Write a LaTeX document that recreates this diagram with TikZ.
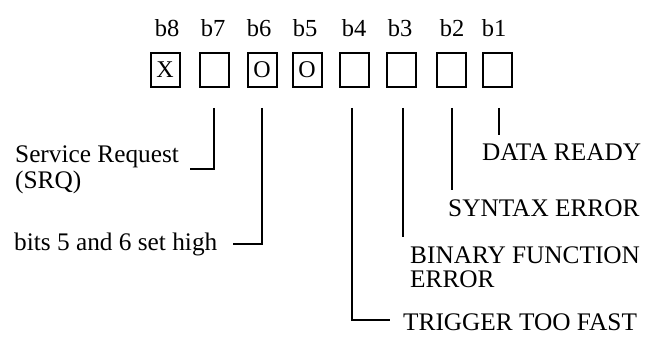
\documentclass[tikz,border=0pt]{standalone}
\usepackage{fontspec}
\setmainfont{Liberation Serif}
\begin{document}
\begin{tikzpicture}[x=1pt,y=-1pt,
  bitbox/.style={draw,line width=2pt,minimum width=29pt,minimum height=34pt,inner sep=0pt,font=\fontsize{24}{27}\selectfont},
  bitlab/.style={inner sep=0pt,font=\fontsize{24.5}{27}\selectfont},
  txt/.style={inner sep=0pt,anchor=base west,font=\fontsize{25.3}{29}\selectfont},
  conn/.style={line width=1.8pt}]
\useasboundingbox (0,0) rectangle (645,339);
% bit labels
\foreach \n/\x in {8/167,7/213,6/259,5/305,4/354,3/400,2/452,1/494}
  \node[bitlab] (l\n) at (\x,28) {b\n};
% boxes
\node[bitbox] (b8) at (165,70) {X};
\node[bitbox] (b7) at (214,70) {};
\node[bitbox] (b6) at (262,70) {O};
\node[bitbox] (b5) at (307,70) {O};
\node[bitbox] (b4) at (354,70) {};
\node[bitbox] (b3) at (401,70) {};
\node[bitbox] (b2) at (451,70) {};
\node[bitbox] (b1) at (497,70) {};
% texts
\node[txt] (srq) at (15,163) {Service Request};
\node[txt] (srq2) at (15,189) {(SRQ)};
\node[txt] (bits) at (14,250) {bits 5 and 6 set high};
\node[txt] (dr) at (482,161) {DATA READY};
\node[txt] (se) at (448,216) {SYNTAX ERROR};
\node[txt] (bf) at (410,263) {BINARY FUNCTION};
\node[txt] (bf2) at (410,287) {ERROR};
\node[txt] (tf) at (403,330) {TRIGGER TOO FAST};
% free ends
\coordinate (e7) at (190,169);
\coordinate (e6) at (233,244);
\coordinate (e4) at (390,320);
\coordinate (e3) at (403,237);
\coordinate (e2) at (452,190);
\coordinate (e1) at (499,135);
% connectors
\draw[conn] ([yshift=-20pt]b7.south) |- (e7);
\draw[conn] ([yshift=-20pt]b6.south) |- (e6);
\draw[conn] ([yshift=-20pt,xshift=-2pt]b4.south) |- (e4);
\draw[conn] ([yshift=-20pt,xshift=2pt]b3.south) -- (e3);
\draw[conn] ([yshift=-20pt,xshift=1pt]b2.south) -- (e2);
\draw[conn] ([yshift=-20pt,xshift=2pt]b1.south) -- (e1);
\end{tikzpicture}
\end{document}
